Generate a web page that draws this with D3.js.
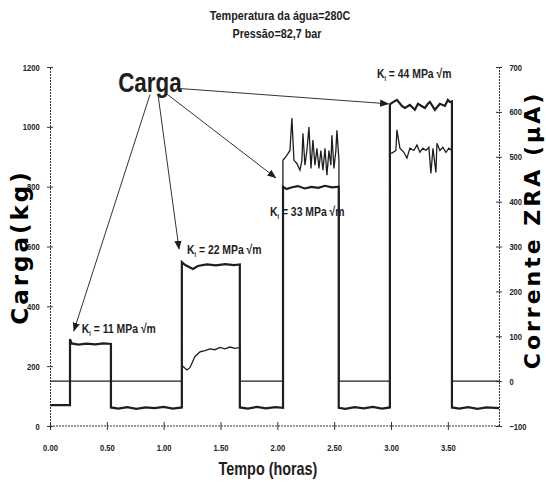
<!DOCTYPE html>
<meta charset="utf-8">
<script src="https://d3js.org/d3.v7.min.js"></script>
<style>
  body { margin: 0; background: #fff; }
  .narrow { font-family: "Liberation Sans", Arial, sans-serif; font-weight: bold; }
  .wide { font-family: "DejaVu Sans", Verdana, sans-serif; font-weight: bold; }
</style>
<div id="chart"></div>
<script>
// tempo (horas) x carga (kg)
const cargaTempo = [0.00,0.176,0.176,0.19,0.25,0.32,0.40,0.47,0.536,0.536,0.60,0.68,0.76,0.84,0.92,1.00,1.08,1.16,
  1.16,1.19,1.258,1.30,1.38,1.46,1.54,1.62,1.67,1.67,1.74,1.82,1.90,1.98,2.05,
  2.05,2.08,2.13,2.18,2.24,2.30,2.36,2.42,2.48,2.54,2.54,2.60,2.68,2.76,2.84,2.92,2.99,
  2.99,3.008,3.052,3.096,3.122,3.166,3.21,3.237,3.254,3.298,3.325,3.342,3.386,3.43,3.474,3.50,3.518,3.536,
  3.536,3.60,3.68,3.76,3.84,3.95];
const cargaValor = [70,70,290,276,272,275,273,276,274,62,58,63,57,62,60,64,58,62,
  548,538,525,535,540,537,541,538,540,62,58,64,59,63,61,
  800,792,798,802,794,799,796,803,798,800,61,57,63,59,64,58,62,
  1075,1080,1090,1070,1063,1073,1057,1077,1073,1063,1077,1083,1057,1077,1070,1090,1083,1085,
  62,58,63,57,62,60];

// tempo (horas) x corrente ZRA (µA)
const correnteTempo = [0.00,1.16,1.16,1.205,1.231,1.275,1.319,1.363,1.407,1.451,1.495,1.539,1.583,1.627,1.671,1.671,2.049,
  2.049,2.084,2.111,2.128,2.146,2.172,2.199,2.216,2.225,2.243,2.26,2.278,2.296,2.313,2.331,2.348,2.366,2.383,2.401,2.419,2.436,2.454,2.471,2.48,2.498,2.515,2.524,2.542,
  2.542,2.99,2.99,3.008,3.043,3.052,3.078,3.113,3.14,3.166,3.201,3.228,3.254,3.281,3.307,3.333,3.351,3.369,3.395,3.404,3.43,3.456,3.483,3.509,3.536,
  3.536,3.95];
const correnteValor = [0,0,35,25,30,55,65,68,72,70,75,72,76,73,75,0,0,
  492,503,514,586,492,485,470,492,552,481,514,566,474,537,481,519,474,514,470,519,459,514,481,548,474,514,559,492,
  0,0,508,508,514,560,519,510,497,519,514,526,510,519,514,521,463,519,465,530,514,521,510,519,514,
  0,0];

const xTicks = [0, 0.5, 1.0, 1.5, 2.0, 2.5, 3.0, 3.5];
const cargaTicks = [0, 200, 400, 600, 800, 1000, 1200];
const correnteTicks = [-100, 0, 100, 200, 300, 400, 500, 600, 700];

// anotações: [tempo, carga]
const kLabels = ["11", "22", "33", "44"];
const kLabelPos = [[0.28, 311], [1.205, 575], [1.935, 702], [2.876, 1164]];
const setaInicio = [[0.88, 1108], [0.95, 1108], [1.01, 1115], [1.143, 1128]];
const setaFim = [[0.21, 318], [1.135, 592], [1.985, 830], [2.975, 1077]];

const width = 546, height = 489;
const svg = d3.select("#chart").append("svg")
  .attr("width", width).attr("height", height);

const x = d3.scaleLinear().domain([0, 3.95]).range([50, 499]);
const yCarga = d3.scaleLinear().domain([0, 1200]).range([426, 67]);
const yCorrente = d3.scaleLinear().domain([-100, 700]).range([426, 67]);

const ink = "#1e1e1e";
const aperto = 0.8; // fonte estreita: escala horizontal

// texto estreito (simula fonte condensada)
function textoEstreito(px, py, size, anchor, txt) {
  return svg.append("text").attr("class", "narrow")
    .attr("transform", `translate(${px},${py}) scale(${aperto},1)`)
    .attr("text-anchor", anchor).attr("font-size", size).attr("fill", ink)
    .text(txt);
}

// eixos
function crossTicks(g, len, vertical) {
  g.selectAll(".tick").append("line")
    .attr(vertical ? "x2" : "y2", len)
    .attr("stroke", "#333");
}

const eixoX = svg.append("g")
  .attr("transform", `translate(0,${yCarga(0)})`)
  .call(d3.axisBottom(x).tickValues(xTicks).tickFormat(d3.format(".2f")).tickSize(4).tickPadding(14));
crossTicks(eixoX, -4, false);

const eixoEsq = svg.append("g")
  .attr("transform", `translate(${x(0)},0)`)
  .call(d3.axisLeft(yCarga).tickValues(cargaTicks).tickFormat(d3.format("d")).tickSize(3).tickPadding(10));
crossTicks(eixoEsq, 3, true);

const eixoDir = svg.append("g")
  .attr("transform", `translate(${x(3.95)},0)`)
  .call(d3.axisRight(yCorrente).tickValues(correnteTicks).tickFormat(d3.format("d")).tickSize(3).tickPadding(10));
crossTicks(eixoDir, -3, true);

[eixoX, eixoEsq, eixoDir].forEach(g => {
  g.select(".domain").attr("stroke", "#333").attr("stroke-dasharray", "2,1");
  g.selectAll(".tick line").attr("stroke", "#333");
  g.selectAll("text").attr("class", "narrow").attr("font-size", 9.5).attr("fill", "#222")
    .attr("transform", `scale(${aperto},1)`);
});
eixoX.select(".domain").attr("d", `M${x(0)},0H${x(3.95)}`);

// séries
const linhaCarga = d3.line().x((d, i) => x(cargaTempo[i])).y(d => yCarga(d));
const linhaCorrente = d3.line().x((d, i) => x(correnteTempo[i])).y(d => yCorrente(d));

svg.append("path").datum(correnteValor)
  .attr("d", linhaCorrente)
  .attr("fill", "none").attr("stroke", ink).attr("stroke-width", 1.3);

svg.append("path").datum(cargaValor)
  .attr("d", linhaCarga)
  .attr("fill", "none").attr("stroke", ink).attr("stroke-width", 2.2);

// títulos
textoEstreito(280, 20, 13.5, "middle", "Temperatura da água=280C");
textoEstreito(277, 38, 13.5, "middle", "Pressão=82,7 bar");
textoEstreito(268, 475, 18, "middle", "Tempo (horas)");

svg.append("text").attr("class", "wide")
  .attr("transform", "translate(28,247) rotate(-90)")
  .attr("text-anchor", "middle").attr("font-size", 23).attr("letter-spacing", 3)
  .text("Carga(kg)");

svg.append("text").attr("class", "wide")
  .attr("transform", "translate(540,230) rotate(-90)")
  .attr("text-anchor", "middle").attr("font-size", 22).attr("letter-spacing", 3)
  .text("Corrente ZRA (µA)");

// anotações
svg.append("defs").append("marker")
  .attr("id", "seta").attr("viewBox", "0 0 10 10")
  .attr("refX", 9).attr("refY", 5)
  .attr("markerWidth", 9).attr("markerHeight", 9)
  .attr("orient", "auto")
  .append("path").attr("d", "M0,1L10,5L0,9Z").attr("fill", ink);

textoEstreito(x(0.6), 92, 28, "start", "Carga");

setaInicio.forEach((p, i) => {
  svg.append("line")
    .attr("x1", x(p[0])).attr("y1", yCarga(p[1]))
    .attr("x2", x(setaFim[i][0])).attr("y2", yCarga(setaFim[i][1]))
    .attr("stroke", "#333").attr("stroke-width", 1)
    .attr("marker-end", "url(#seta)");
});

kLabels.forEach((k, i) => {
  const t = textoEstreito(x(kLabelPos[i][0]), yCarga(kLabelPos[i][1]), 13, "start", null);
  t.append("tspan").text("K");
  t.append("tspan").attr("font-size", 7).attr("dy", 3).text("I");
  t.append("tspan").attr("dy", -3).text(` = ${k} MPa √m`);
});
</script>
